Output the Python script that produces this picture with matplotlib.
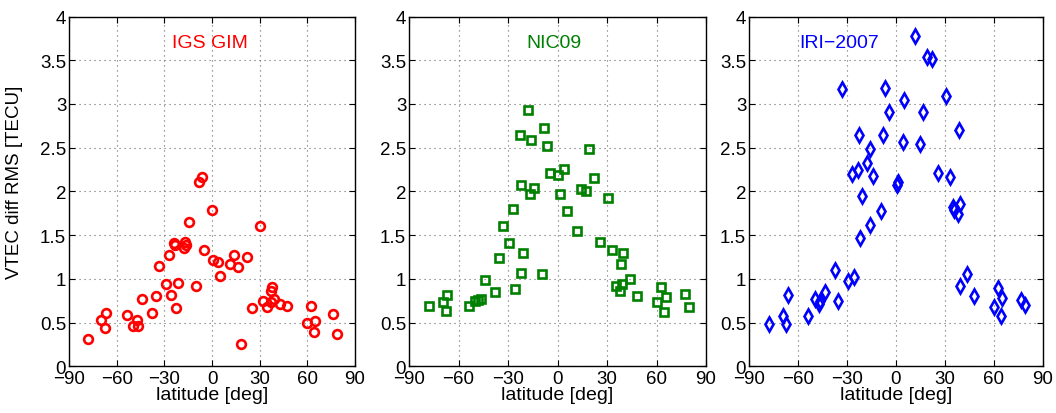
import matplotlib
matplotlib.use('Agg')
import matplotlib.pyplot as plt

plt.rcParams['font.family'] = ['Liberation Sans', 'DejaVu Sans']

# IGS GIM
lat_igs = [-77.9, -69.7, -66.6, -67.6, -53.8, -49.8, -47.0, -46.4, -44.1, -37.8,
           -35.5, -33.6, -29.2, -27.3, -26.0, -23.7, -23.1, -22.7, -21.4, -17.6,
           -16.8, -16.2, -14.5, -9.9, -8.2, -6.5, -5.0, 0.2, 0.6, 3.8,
           5.0, 11.1, 14.1, 16.6, 18.5, 21.8, 25.4, 30.0, 32.3, 34.7,
           37.0, 38.0, 37.2, 38.9, 42.8, 47.3, 59.7, 62.2, 64.1, 64.9,
           76.0, 78.6]
rms_igs = [0.31, 0.53, 0.61, 0.44, 0.59, 0.46, 0.53, 0.46, 0.77, 0.61,
           0.80, 1.15, 0.94, 1.27, 0.82, 1.41, 1.39, 0.67, 0.95, 1.35,
           1.42, 1.39, 1.65, 0.92, 2.11, 2.16, 1.33, 1.79, 1.22, 1.19,
           1.03, 1.17, 1.27, 1.14, 0.26, 1.25, 0.67, 1.60, 0.75, 0.68,
           0.86, 0.91, 0.74, 0.77, 0.71, 0.69, 0.50, 0.69, 0.39, 0.52,
           0.60, 0.37]

# NIC09
lat_nic = [-77.8, -69.3, -66.7, -67.5, -53.9, -49.7, -48.1, -46.5, -43.8, -37.8,
           -35.4, -32.9, -29.1, -27.1, -25.9, -23.0, -22.4, -22.0, -21.0, -17.6,
           -16.0, -16.4, -14.3, -9.1, -8.1, -6.5, -4.4, 0.4, 1.4, 4.2,
           5.5, 11.7, 14.5, 17.0, 19.2, 22.4, 25.9, 30.7, 33.1, 35.2,
           37.8, 38.4, 39.2, 39.4, 43.8, 47.9, 60.4, 62.8, 64.4, 65.5,
           77.0, 79.6]
rms_nic = [0.69, 0.74, 0.81, 0.63, 0.69, 0.75, 0.76, 0.77, 0.99, 0.85,
           1.24, 1.61, 1.41, 1.80, 0.88, 2.64, 2.07, 1.07, 1.29, 2.93,
           2.59, 1.97, 2.04, 1.06, 2.72, 2.52, 2.21, 2.19, 1.97, 2.26,
           1.78, 1.55, 2.03, 2.00, 2.49, 2.15, 1.42, 1.92, 1.33, 0.92,
           0.86, 1.17, 0.94, 1.30, 1.00, 0.80, 0.74, 0.91, 0.62, 0.79,
           0.83, 0.68]

# IRI-2007
lat_iri = [-77.5, -69.3, -67.3, -66.2, -53.6, -49.3, -47.1, -46.3, -43.6, -37.5,
           -35.3, -33.0, -29.4, -26.9, -25.5, -23.2, -22.6, -22.0, -21.0, -17.7,
           -16.1, -15.7, -14.1, -9.2, -7.9, -6.5, -4.5, 0.8, 1.4, 4.3,
           5.1, 11.8, 14.7, 16.7, 19.0, 22.2, 25.7, 30.8, 33.0, 34.9,
           35.7, 38.1, 38.5, 39.3, 38.9, 43.6, 47.7, 60.1, 62.4, 64.2,
           65.2, 76.4, 78.9]
rms_iri = [0.48, 0.58, 0.48, 0.81, 0.57, 0.77, 0.71, 0.75, 0.85, 1.10,
           0.75, 3.17, 0.97, 2.20, 1.02, 2.24, 2.64, 1.47, 1.95, 2.32,
           2.48, 1.62, 2.18, 1.78, 2.65, 3.18, 2.91, 2.07, 2.11, 2.57,
           3.04, 3.78, 2.54, 2.91, 3.54, 3.51, 2.21, 3.09, 2.17, 1.82,
           1.79, 1.74, 2.70, 1.86, 0.92, 1.06, 0.80, 0.68, 0.89, 0.58,
           0.78, 0.76, 0.70]

W, H = 1056, 414
fig = plt.figure(figsize=(W / 100, H / 100), dpi=100)

panels = [
    (69, 355, lat_igs, rms_igs, 'o', 'red', 'IGS GIM', -1, 6.3),
    (409, 706, lat_nic, rms_nic, 's', (0, 0.5, 0), 'NIC09', -2.4, 5.3),
    (749, 1043, lat_iri, rms_iri, 'd', 'blue', 'IRI\u22122007', -35, 7.2),
]
top, bottom = 17.5, 367.3
yticks = [0, 0.5, 1, 1.5, 2, 2.5, 3, 3.5, 4]
ytl = ['0', '0.5', '1', '1.5', '2', '2.5', '3', '3.5', '4']
xticks = [-90, -60, -30, 0, 30, 60, 90]
xtl = ['\u221290', '\u221260', '\u221230', '0', '30', '60', '90']

for i, (l, r, x, y, mk, col, name, tx, ms) in enumerate(panels):
    ax = fig.add_axes([l / W, (H - bottom) / H, (r - l) / W, (bottom - top) / H])
    ax.plot(x, y, linestyle='none', marker=mk, markersize=ms,
            markerfacecolor='none', markeredgecolor=col, markeredgewidth=1.9)
    ax.set_xlim(-90, 90)
    ax.set_ylim(0, 4)
    ax.set_xticks(xticks)
    ax.set_xticklabels(xtl)
    ax.set_yticks(yticks)
    ax.set_yticklabels(ytl)
    ax.grid(True, linestyle=(0, (1, 3.5)), color='0.4', linewidth=0.8)
    ax.tick_params(direction='in', top=True, right=True, length=4,
                   labelsize=13.5, pad=2)
    ax.tick_params(axis='x', pad=3)
    for s in ax.spines.values():
        s.set_linewidth(1.0)
    ax.set_xlabel('latitude [deg]', fontsize=14, labelpad=-1)
    if i == 0:
        ax.set_ylabel('VTEC diff RMS [TECU]', fontsize=13.5, labelpad=4)
        ax.yaxis.set_label_coords(-0.16, 0.53)
    ax.text(tx, 3.7, name, color=col, fontsize=14, ha='center', va='center')

fig.savefig('out.png', dpi=100)
